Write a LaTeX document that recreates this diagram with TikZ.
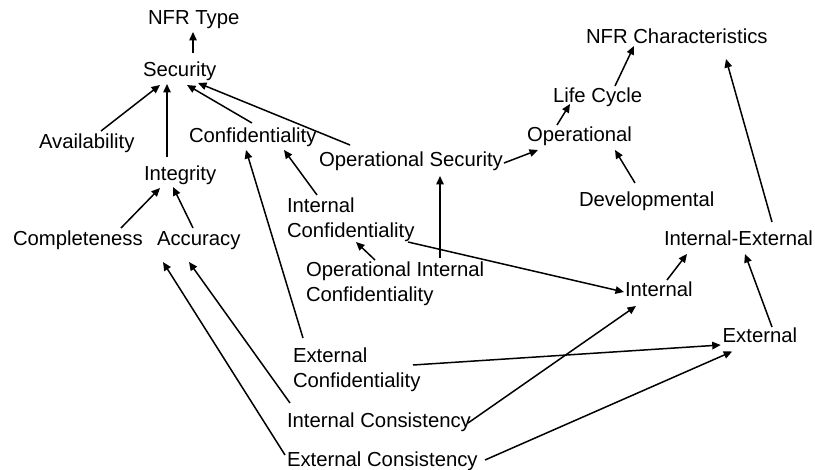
\documentclass[tikz,border=0pt]{standalone}
\usepackage{fontspec}
\setmainfont{Liberation Sans}
\usetikzlibrary{arrows.meta}

% two-line label whose reference point is the baseline of its first line
\newcommand{\twoline}[2]{\begin{tabular}[t]{@{}l@{}}#1\\#2\end{tabular}}

\begin{document}
\begin{tikzpicture}[x=1pt,y=-1pt,
  lbl/.style={anchor=base west,inner sep=0pt,outer sep=0pt,
              font=\fontsize{20.3}{24.5}\selectfont},
  isa/.style={line width=1.5pt,-{Triangle[length=8.5pt,width=7.5pt]}}]

\fill[white] (0,0) rectangle (815,470);
\useasboundingbox (0,0) rectangle (815,470);

% labels (left edge, first baseline)
\node[lbl] (type)      at (148,25)    {NFR Type};
\node[lbl] (sec)       at (143,77)    {Security};
\node[lbl] (avail)     at (39,148.7)  {Availability};
\node[lbl] (conf)      at (189,142.7) {Confidentiality};
\node[lbl] (integ)     at (144,181)   {Integrity};
\node[lbl] (compl)     at (13,246)    {Completeness};
\node[lbl] (accu)      at (157,246)   {Accuracy};
\node[lbl] (intconf)   at (287,212.7) {\twoline{Internal}{Confidentiality}};
\node[lbl] (opsec)     at (319,167)   {Operational Security};
\node[lbl] (opintconf) at (306,277)   {\twoline{Operational Internal}{Confidentiality}};
\node[lbl] (extconf)   at (293,362.7) {\twoline{External}{Confidentiality}};
\node[lbl] (intcons)   at (287,427.7) {Internal Consistency};
\node[lbl] (extcons)   at (287,466.7) {External Consistency};
\node[lbl] (nfrc)      at (586,44)    {NFR Characteristics};
\node[lbl] (life)      at (553,102.7) {Life Cycle};
\node[lbl] (oper)      at (527,141.7) {Operational};
\node[lbl] (dev)       at (579,206.7) {Developmental};
\node[lbl] (inex)      at (664,246)   {Internal-External};
\node[lbl] (intl)      at (625,297)   {Internal};
\node[lbl] (extl)      at (722.7,343) {External};

% security branch
\draw[isa] ([shift={(50,-24)}]sec.base west)    -- ([shift={(45,7)}]type.base west);
\draw[isa] ([shift={(62,-17.7)}]avail.base west) -- ([shift={(17,8)}]sec.base west);
\draw[isa] ([shift={(23,-24)}]integ.base west)  -- ([shift={(24,7)}]sec.base west);
\draw[isa] ([shift={(63,-19.7)}]conf.base west) -- ([shift={(44,8)}]sec.base west);
\draw[isa] ([shift={(31,-22)}]opsec.base west)  -- ([shift={(55,6)}]sec.base west);
\draw[isa] ([shift={(108,-18)}]compl.base west) -- ([shift={(16,7)}]integ.base west);
\draw[isa] ([shift={(36,-18)}]accu.base west)   -- ([shift={(29,6)}]integ.base west);
\draw[isa] ([shift={(30,-17.7)}]intconf.base west) -- ([shift={(95,7.3)}]conf.base west);
\draw[isa] ([shift={(10,-24.7)}]extconf.base west) -- ([shift={(57,7.3)}]conf.base west);
\draw[isa] ([shift={(3,-24.7)}]intcons.base west)  -- ([shift={(32,16)}]accu.base west);
\draw[isa] ([shift={(-2,-11.7)}]extcons.base west) -- ([shift={(6,16)}]accu.base west);
\draw[isa] ([shift={(69,-17)}]opintconf.base west) -- ([shift={(69,29.3)}]intconf.base west);
\draw[isa] ([shift={(134,-19)}]opintconf.base west) -- ([shift={(121,9)}]opsec.base west);

% characteristics branch
\draw[isa] ([shift={(185,-4)}]opsec.base west)  -- ([shift={(11,8.3)}]oper.base west);
\draw[isa] ([shift={(30,-16.7)}]oper.base west) -- ([shift={(17,1.3)}]life.base west);
\draw[isa] ([shift={(62,-16.7)}]life.base west) -- ([shift={(48,2)}]nfrc.base west);
\draw[isa] ([shift={(56,-23.7)}]dev.base west)  -- ([shift={(88,8.3)}]oper.base west);
\draw[isa] ([shift={(108,-24)}]inex.base west)  -- ([shift={(140,15)}]nfrc.base west);
\draw[isa] ([shift={(42,-17)}]intl.base west)   -- ([shift={(23,8)}]inex.base west);
\draw[isa] ([shift={(49.3,-16)}]extl.base west) -- ([shift={(81,8)}]inex.base west);
\draw[isa] ([shift={(121,29.3)}]intconf.base west) -- ([shift={(-1,-5)}]intl.base west);
\draw[isa] ([shift={(120,2.3)}]extconf.base west)  -- ([shift={(-2,2)}]extl.base west);
\draw[isa] ([shift={(181,-4.7)}]intcons.base west) -- ([shift={(11,9)}]intl.base west);
\draw[isa] ([shift={(198,-6.7)}]extcons.base west) -- ([shift={(9.5,8.5)}]extl.base west);

\end{tikzpicture}
\end{document}
